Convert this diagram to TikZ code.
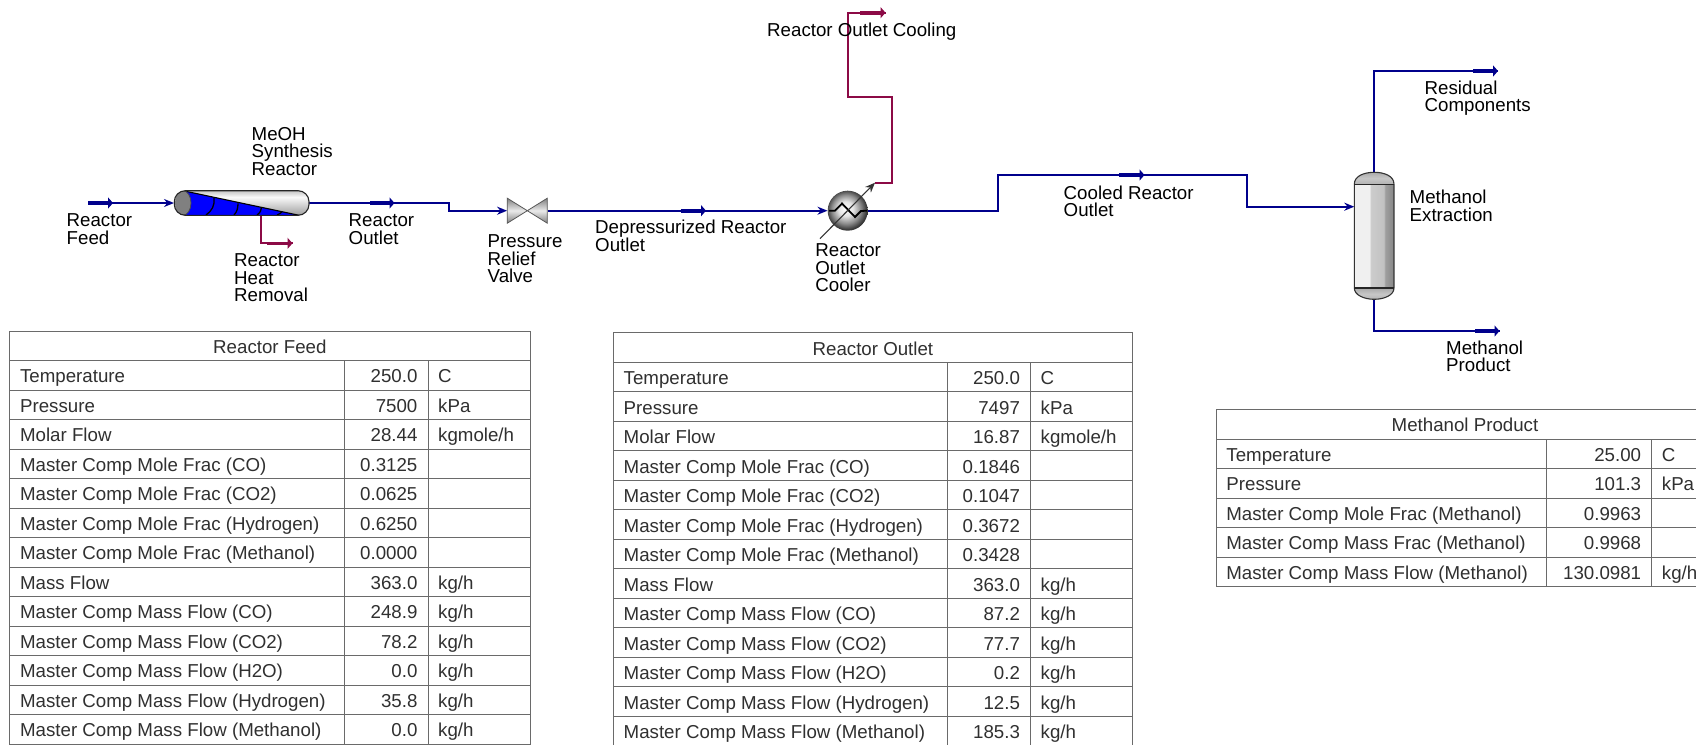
\documentclass[tikz,border=0pt]{standalone}
\usepackage{fontspec}
\setmainfont{Liberation Sans}
\usetikzlibrary{arrows.meta,shapes.geometric}
\definecolor{streamblue}{HTML}{00008C}
\definecolor{energyred}{HTML}{8C0A46}
\definecolor{gridgray}{HTML}{6A6A6A}
\definecolor{tabletext}{HTML}{303030}
\pgfdeclarehorizontalshading{columnbody}{100bp}{
 color(0bp)=(white!55!black); color(10bp)=(white!68!black);
 color(24bp)=(white!94!black); color(44bp)=(white!94!black); color(46bp)=(white!80!black);
 color(62bp)=(white!76!black); color(64bp)=(white!62!black); color(76bp)=(white!52!black); color(100bp)=(white!50!black)}
\pgfdeclareverticalshading{reactorbody}{100bp}{
 color(0bp)=(white!55!black); color(25bp)=(white!62!black); color(62bp)=(white!98!black);
 color(72bp)=(white!82!black); color(100bp)=(white!35!black)}
\pgfdeclareverticalshading{capshade}{100bp}{
 color(0bp)=(white!62!black); color(50bp)=(white!78!black); color(100bp)=(white!55!black)}
\pgfdeclareradialshading{sphere}{\pgfpoint{-3bp}{3bp}}{
 color(0bp)=(white); color(9bp)=(white!90!black); color(18bp)=(white!55!black); color(25bp)=(white!22!black); color(50bp)=(black)}
\tikzset{
 x=1pt,y=-1pt,
 stream/.style={draw=streamblue,line width=1.8pt,line join=miter},
 energy/.style={draw=energyred,line width=1.9pt,line join=miter},
 inlethead/.style={-{Stealth[length=10pt,width=8pt]}},
 stubblue/.style={draw=streamblue,line width=3.6pt,-{Triangle[length=5pt,width=11pt]},shorten >=0pt},
 stubred/.style={draw=energyred,line width=3.6pt,-{Triangle[length=5pt,width=11pt]}},
 lbl/.style={anchor=base west,inner sep=0pt,align=left,font=\fontsize{18.7}{17.4}\selectfont,text=black},
 cell/.style={inner sep=0pt,font=\fontsize{18.7}{20}\selectfont,text=tabletext},
 gridline/.style={draw=gridgray,line width=0.9pt},
 equip/.style={inner sep=0pt,rectangle,draw=none},
}
% #1 prefix, #2 x0, #3 c1, #4 c2, #5 right, #6 top, #7 title, #8 rows, #9 row list
\newcommand{\datatable}[9]{
 \pgfmathsetmacro{\hdrb}{#6+29.5}
 \pgfmathsetmacro{\tabb}{#6+29.5+29.5*#8}
 \draw[gridline] (#2,#6) rectangle (#5,\tabb);
 \draw[gridline] (#3,\hdrb) -- (#3,\tabb) (#4,\hdrb) -- (#4,\tabb);
 \pgfmathsetmacro{\tc}{(#2+#5)/2}
 \pgfmathsetmacro{\ty}{#6+22.2}
 \node[cell,anchor=base] (#1title) at (\tc,\ty) {#7};
 \foreach \na/\va/\un [count=\i from 0] in {#9}{
  \pgfmathsetmacro{\rt}{#6+29.5+29.5*\i}
  \pgfmathsetmacro{\bl}{\rt+22.2}
  \draw[gridline] (#2,\rt) -- (#5,\rt);
  \node[cell,anchor=base west] (#1n\i) at (#2+10.2,\bl) {\na};
  \node[cell,anchor=base east] (#1v\i) at (#4-10.4,\bl) {\va};
  \node[cell,anchor=base west] (#1u\i) at (#4+10,\bl) {\un};
 }
}
\begin{document}
\begin{tikzpicture}
\clip (0,0) rectangle (1696,744);
\fill[white] (0,0) rectangle (1696,744);

% ---------- equipment anchors
\node[equip,minimum width=135pt,minimum height=24.6pt] (reactor) at (241.7,203) {};
\node[equip,minimum width=40pt,minimum height=25pt] (valve) at (527.3,210.7) {};
\node[equip,circle,minimum size=40pt] (cooler) at (847.7,210.7) {};
\node[equip,minimum width=39.7pt,minimum height=127pt] (column) at (1374.2,235.8) {};

% ---------- free stream ends
\coordinate (feedstart) at (88.3,203);
\coordinate (feedstubend) at (113,203);
\coordinate (outstubstart) at (370,203);
\coordinate (outstubend) at (394.5,203);
\coordinate (heatstub) at (267,243.3);
\coordinate (heatend) at (292.5,243.3);
\coordinate (heattap) at (261,215.3);
\coordinate (depstubstart) at (680.7,210.7);
\coordinate (depstubend) at (706,210.7);
\coordinate (coolarrowtail) at (820,238.7);
\coordinate (coolarrowtip) at (875,182.7);
\coordinate (coolstub) at (860,12.7);
\coordinate (coolend) at (885.5,12.7);
\coordinate (cooledstubstart) at (1119,175);
\coordinate (cooledstubend) at (1144.5,175);
\coordinate (residstub) at (1473,71);
\coordinate (residend) at (1498,71);
\coordinate (prodstub) at (1475,331);
\coordinate (prodend) at (1499.5,331);
\coordinate (columnin) at (1354.3,206.7);

% ---------- streams
\draw[stream,inlethead] (feedstart) -- (reactor.west);
\draw[stubblue] (feedstart) -- (feedstubend);
\draw[stream,inlethead] (reactor.east) -- (449.3,203) -- (449.3,210.7) -- (valve.west);
\draw[stubblue] (outstubstart) -- (outstubend);
\draw[stream,inlethead] (valve.east) -- (cooler.west);
\draw[stubblue] (depstubstart) -- (depstubend);
\draw[stream,inlethead] (cooler.east) -- (998.3,210.7) -- (998.3,175) -- (1246.7,175) -- (1246.7,206.7) -- (columnin);
\draw[stubblue] (cooledstubstart) -- (cooledstubend);
\draw[stream] (column.north) -- (1374.2,71) -- (residend);
\draw[stubblue] (residstub) -- (residend);
\draw[stream] (column.south) -- (1374.2,331) -- (prodend);
\draw[stubblue] (prodstub) -- (prodend);
\draw[energy] (heattap) -- (261,243.3) -- (heatend);
\draw[stubred] (heatstub) -- (heatend);
\draw[energy] (coolarrowtip) -- (891.7,182.7) -- (891.7,97.3) -- (847.7,97.3) -- (847.7,12.7) -- (coolend);
\draw[stubred] (coolstub) -- (coolend);

% ---------- reactor
\begin{scope}
 \clip[rounded corners=11pt] (174.3,190.7) rectangle (309,215.3);
 \shade[shading=reactorbody] (174,190.7) rectangle (309,215.3);
 \fill[blue] (183,190.7) -- (299,215.3) -- (175,215.3) -- cycle;
 \draw[black,line width=1.3pt] (214,198) .. controls (215,205) and (212,211) .. (206,215);
 \draw[black,line width=1.3pt] (238,203.3) .. controls (238,208) and (237,212) .. (234,215);
 \draw[black,line width=1.3pt] (261.5,207.5) .. controls (261.5,210) and (260,213) .. (257,215);
 \draw[black,line width=1.3pt] (282,211.7) .. controls (281,213) and (279.5,214) .. (277,215);
 \draw[black,line width=1.1pt] (183,190.7) -- (299,215.3);
 \fill[white!50!black] (183,203) ellipse (8pt and 12.3pt);
 \draw[black!70,line width=0.8pt] (183,190.7) arc[start angle=90,end angle=-90,x radius=8pt,y radius=12.3pt];
\end{scope}
\draw[black!85,line width=1.1pt,rounded corners=11pt] (174.3,190.7) rectangle (309,215.3);

% ---------- valve
\shade[top color=white!50!black,bottom color=white!50!black,middle color=white!92!black,draw=black!65,line width=0.8pt]
 (507.3,198.2) -- (527.3,210.7) -- (507.3,223.2) -- cycle;
\shade[top color=white!50!black,bottom color=white!50!black,middle color=white!92!black,draw=black!65,line width=0.8pt]
 (547.3,198.2) -- (527.3,210.7) -- (547.3,223.2) -- cycle;

% ---------- cooler
\shade[shading=sphere] (847.7,210.7) circle (20pt);
\draw[black,line width=1.8pt,line join=miter] (829,210.7) -- (835,210.7) -- (842,203.5) -- (855,217) -- (861,211) -- (867,210.7);
\draw[black!80,line width=1.1pt,-{Stealth[length=10pt,width=8pt]}] (coolarrowtail) -- (coolarrowtip);

% ---------- column
\begin{scope}
 \path[clip] (1354.3,184.3) .. controls (1354.3,176) and (1364,172.3) .. (1374.2,172.3)
   .. controls (1384.5,172.3) and (1394,176) .. (1394,184.3) -- (1394,288)
   .. controls (1394,295) and (1384.5,299.3) .. (1374.2,299.3)
   .. controls (1364,299.3) and (1354.3,295) .. (1354.3,288) -- cycle;
 \shade[shading=columnbody] (1354.3,172) rectangle (1394,300);
 \shade[shading=capshade] (1354.3,172) rectangle (1394,184.3);
 \shade[shading=capshade] (1354.3,288) rectangle (1394,300);
\end{scope}
\draw[black!80,line width=1.1pt] (1354.3,184.3) .. controls (1354.3,176) and (1364,172.3) .. (1374.2,172.3)
   .. controls (1384.5,172.3) and (1394,176) .. (1394,184.3) -- (1394,288)
   .. controls (1394,295) and (1384.5,299.3) .. (1374.2,299.3)
   .. controls (1364,299.3) and (1354.3,295) .. (1354.3,288) -- cycle;
\draw[black!85,line width=1.1pt] (1354.3,184.3) -- (1394,184.3) (1354.3,288) -- (1394,288);

% ---------- labels (anchored on the baseline of the last line)
\node[lbl] (lfeed) at (66.5,244) {Reactor\\Feed};
\node[lbl] (lreact) at (251.5,175) {MeOH\\Synthesis\\Reactor};
\node[lbl] (lheat) at (234,301.7) {Reactor\\Heat\\Removal};
\node[lbl] (lout) at (348.5,244) {Reactor\\Outlet};
\node[lbl] (lvalve) at (487.5,282.7) {Pressure\\Relief\\Valve};
\node[lbl] (ldep) at (595,251.7) {Depressurized Reactor\\Outlet};
\node[lbl] (lcooler) at (815.2,291.5) {Reactor\\Outlet\\Cooler};
\node[lbl] (lcool) at (767,36) {Reactor Outlet Cooling};
\node[lbl] (lcooled) at (1063.5,216.5) {Cooled Reactor\\Outlet};
\node[lbl] (lresid) at (1424.5,111.7) {Residual\\Components};
\node[lbl] (lextr) at (1409.5,221) {Methanol\\Extraction};
\node[lbl] (lprod) at (1446,371.7) {Methanol\\Product};

% ---------- tables
\datatable{f}{9.7}{344.8}{428}{530}{331}{Reactor Feed}{13}{
 Temperature/250.0/C, Pressure/7500/kPa, Molar Flow/28.44/{kgmole/h},
 Master Comp Mole Frac (CO)/0.3125/, Master Comp Mole Frac (CO2)/0.0625/,
 Master Comp Mole Frac (Hydrogen)/0.6250/, Master Comp Mole Frac (Methanol)/0.0000/,
 Mass Flow/363.0/{kg/h}, Master Comp Mass Flow (CO)/248.9/{kg/h},
 Master Comp Mass Flow (CO2)/78.2/{kg/h}, Master Comp Mass Flow (H2O)/0.0/{kg/h},
 Master Comp Mass Flow (Hydrogen)/35.8/{kg/h}, Master Comp Mass Flow (Methanol)/0.0/{kg/h}}
\datatable{o}{613.3}{947}{1030.5}{1132.5}{332.8}{Reactor Outlet}{13}{
 Temperature/250.0/C, Pressure/7497/kPa, Molar Flow/16.87/{kgmole/h},
 Master Comp Mole Frac (CO)/0.1846/, Master Comp Mole Frac (CO2)/0.1047/,
 Master Comp Mole Frac (Hydrogen)/0.3672/, Master Comp Mole Frac (Methanol)/0.3428/,
 Mass Flow/363.0/{kg/h}, Master Comp Mass Flow (CO)/87.2/{kg/h},
 Master Comp Mass Flow (CO2)/77.7/{kg/h}, Master Comp Mass Flow (H2O)/0.2/{kg/h},
 Master Comp Mass Flow (Hydrogen)/12.5/{kg/h}, Master Comp Mass Flow (Methanol)/185.3/{kg/h}}
\datatable{m}{1216}{1546.7}{1651.7}{1714}{409.7}{Methanol Product}{5}{
 Temperature/25.00/C, Pressure/101.3/kPa,
 Master Comp Mole Frac (Methanol)/0.9963/, Master Comp Mass Frac (Methanol)/0.9968/,
 Master Comp Mass Flow (Methanol)/130.0981/{kg/h}}
\end{tikzpicture}
\end{document}
